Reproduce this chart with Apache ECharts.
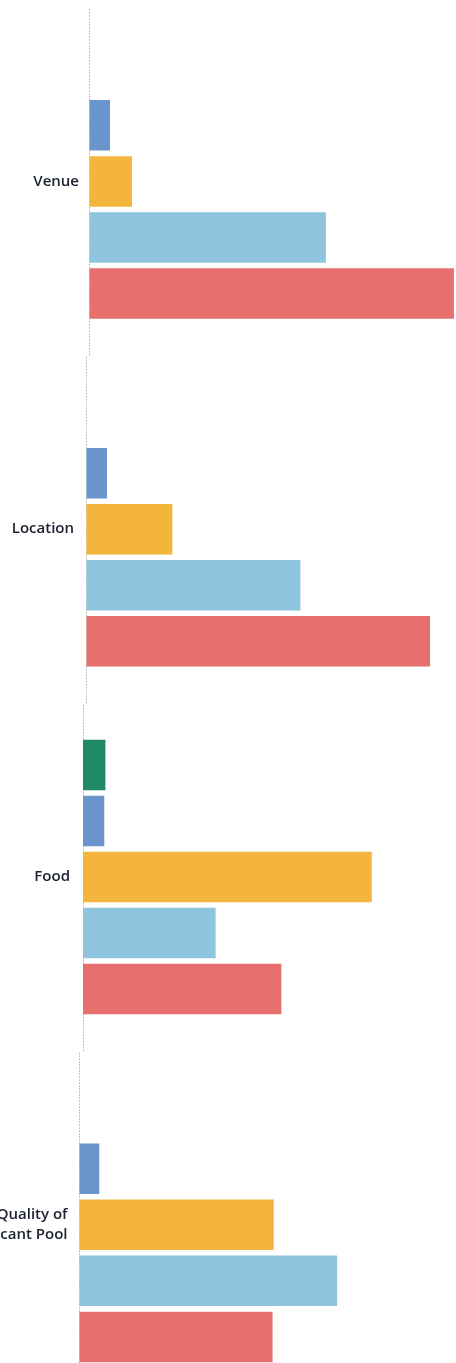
<!DOCTYPE html>
<html>
<head>
<meta charset="utf-8">
<script src="https://cdn.jsdelivr.net/npm/echarts@6/dist/echarts.min.js"></script>
<style>
html,body{margin:0;padding:0;background:#fff;}
#chart{width:456px;height:1363px;}
</style>
</head>
<body>
<div id="chart"></div>
<script>
// Data (values in % of a 0-100 scale)
const categories = ['Venue', 'Location', 'Food', 'Quality of\nApplicant Pool'];
const seriesNames = ['Green', 'Blue', 'Yellow', 'Light blue', 'Red'];
const greenValues = [null, null, 5.9, null];
const blueValues = [5.4, 5.4, 5.6, 5.2];
const yellowValues = [11.2, 22.6, 76.0, 51.1];
const lightBlueValues = [62.2, 56.3, 34.9, 67.8];
const redValues = [95.9, 90.4, 52.2, 50.8];

const allValues = [greenValues, blueValues, yellowValues, lightBlueValues, redValues];
const colors = ['#1f8a63', '#6a95cc', '#f3b53c', '#8ec4de', '#e76f6d'];

// layout (the scan is slightly skewed, so each category band gets its own grid)
const bandTop = 7.5, bandH = 347.8, plotW = 380;
const lefts = [89.5, 86.5, 83, 79.5];
const margins = [10.5, 12.5, 13, 12];

const grids = [], xAxes = [], yAxes = [], series = [];
categories.forEach((cat, i) => {
  grids.push({left: lefts[i], top: bandTop + i * bandH, width: plotW, height: bandH,
              containLabel: false, outerBoundsMode: 'none'});
  xAxes.push({type: 'value', gridIndex: i, min: 0, max: 100, show: false, splitLine: {show: false}});
  yAxes.push({
    type: 'category', gridIndex: i, data: [cat],
    axisTick: {show: false},
    axisLine: {show: true, lineStyle: {color: '#b8b8b8', width: 1, type: [1, 2]}},
    axisLabel: {
      margin: margins[i], fontSize: 15, fontWeight: 600, color: '#1a2030',
      fontFamily: '"Open Sans", "Noto Sans", sans-serif', lineHeight: 20, align: 'right'
    },
    splitLine: {show: false}
  });
  allValues.forEach((vals, s) => {
    series.push({
      type: 'bar', name: seriesNames[s], xAxisIndex: i, yAxisIndex: i,
      data: [vals[i]], barWidth: 50.5, barGap: '11%',
      itemStyle: {color: colors[s]}, silent: true, animation: false
    });
  });
});

const chart = echarts.init(document.getElementById('chart'), null, {renderer: 'canvas'});
chart.setOption({
  animation: false,
  backgroundColor: '#ffffff',
  grid: grids,
  xAxis: xAxes,
  yAxis: yAxes,
  series: series
});
</script>
</body>
</html>
